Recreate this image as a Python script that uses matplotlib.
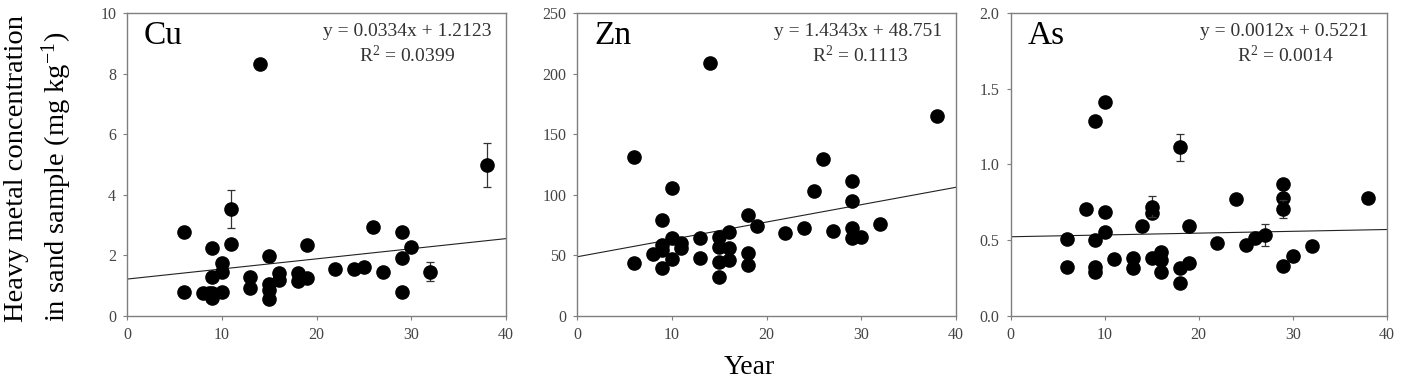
import matplotlib
matplotlib.use("Agg")
import matplotlib.pyplot as plt

plt.rcParams['font.family'] = ['Liberation Serif', 'DejaVu Serif']
plt.rcParams['mathtext.fontset'] = 'custom'
plt.rcParams['mathtext.rm'] = 'Liberation Serif'
plt.rcParams['mathtext.it'] = 'Liberation Serif:italic'

# Cu (mg/kg)
cu_years = [6, 6, 8, 8.6, 9, 9, 9, 9, 10, 10, 10, 11, 13, 13, 14, 15, 15, 15, 15,
            16, 16, 18, 18, 19, 19, 22, 24, 25, 26, 27, 29, 29, 29, 30]
cu_vals = [2.76, 0.77, 0.74, 0.76, 2.23, 1.29, 0.74, 0.6, 1.73, 1.46, 0.77, 2.37,
           1.29, 0.9, 8.31, 1.97, 1.05, 0.85, 0.55, 1.4, 1.18, 1.4, 1.15, 1.26,
           2.34, 1.55, 1.53, 1.62, 2.92, 1.46, 2.76, 1.9, 0.77, 2.26]
cu_err_years = [11, 32, 38]
cu_err_vals = [3.52, 1.46, 4.99]
cu_err_sd = [0.63, 0.3, 0.72]

# Zn (mg/kg)
zn_years = [6, 6, 8, 9, 9, 9, 9, 10, 10, 10, 11, 11, 13, 13, 14, 15, 15, 15, 15,
            16, 16, 16, 18, 18, 18, 19, 22, 24, 25, 26, 27, 29, 29, 29, 29, 30,
            32, 38]
zn_vals = [130.9, 43.3, 50.7, 79.1, 58.4, 54.3, 39.1, 105.8, 64, 46.6, 59.8, 55.7,
           64.5, 47.4, 208.7, 64.8, 57, 44.7, 32.2, 68.9, 55.7, 46, 83.2, 52.1,
           41.9, 74.4, 68.1, 72.8, 103.1, 129.5, 70.3, 111.4, 94.8, 72.2, 64,
           65.3, 75.5, 165.4]
zn_err_years = []
zn_err_vals = []
zn_err_sd = []

# As (mg/kg)
as_years = [6, 6, 8, 9, 9, 9, 9, 10, 10, 10, 11, 13, 13, 14, 15, 15, 16, 16, 16,
            18, 18, 19, 19, 22, 24, 25, 26, 29, 29, 29, 30, 32, 38]
as_vals = [0.505, 0.32, 0.706, 1.29, 0.5, 0.324, 0.29, 1.416, 0.688, 0.551, 0.373,
           0.384, 0.313, 0.595, 0.677, 0.384, 0.423, 0.368, 0.29, 0.313, 0.214,
           0.595, 0.35, 0.483, 0.77, 0.467, 0.512, 0.869, 0.776, 0.33, 0.397,
           0.463, 0.776]
as_err_years = [15, 18, 27, 29]
as_err_vals = [0.721, 1.114, 0.534, 0.703]
as_err_sd = [0.07, 0.09, 0.07, 0.06]

metals = ["Cu", "Zn", "As"]
slopes = [0.0334, 1.4343, 0.0012]
intercepts = [1.2123, 48.751, 0.5221]
eq_labels = ["y = 0.0334x + 1.2123", "y = 1.4343x + 48.751", "y = 0.0012x + 0.5221"]
r2_labels = ["0.0399", "0.1113", "0.0014"]
y_max = [10, 250, 2.0]
y_step = [2, 50, 0.5]
x_ticks = [0, 10, 20, 30, 40]

panels = [
    (cu_years, cu_vals, cu_err_years, cu_err_vals, cu_err_sd),
    (zn_years, zn_vals, zn_err_years, zn_err_vals, zn_err_sd),
    (as_years, as_vals, as_err_years, as_err_vals, as_err_sd),
]

fig = plt.figure(figsize=(14.01, 3.83), dpi=100)
lefts = [0.0909, 0.4121, 0.7214]
widths = [0.2701, 0.2701, 0.2684]
eq_x = [0.963, 0.963, 0.951]
r2_x = [0.739, 0.747, 0.73]

spine_col = '#7f7f7f'
tick_col = '#444444'

for i, (xs, ys, ex, ey, es) in enumerate(panels):
    ax = fig.add_axes([lefts[i], 0.1757, widths[i], 0.7896])
    ax.plot(xs, ys, 'o', color='black', markersize=9.5, zorder=3)
    if ex:
        ax.errorbar(ex, ey, yerr=es, fmt='o', color='black', markersize=9.5,
                    ecolor='#333333', elinewidth=0.9, capsize=3, capthick=0.9,
                    zorder=3)
    lx = [0, 40]
    ax.plot(lx, [intercepts[i] + slopes[i] * v for v in lx], color='#222222',
            lw=0.8, zorder=2)
    ax.set_xlim(0, 40)
    ax.set_ylim(0, y_max[i])
    ax.set_xticks(x_ticks)
    n = int(round(y_max[i] / y_step[i]))
    yt = [k * y_step[i] for k in range(n + 1)]
    ax.set_yticks(yt)
    if i == 2:
        ax.set_yticklabels([f"{v:.1f}" for v in yt])
    for s in ax.spines.values():
        s.set_color(spine_col)
        s.set_linewidth(1.0)
    ax.tick_params(direction='out', length=3, width=0.8, color=spine_col,
                   labelcolor=tick_col, labelsize=11.5, pad=5)
    ax.text(0.044, 0.925, metals[i], transform=ax.transAxes, fontsize=24,
            ha='left', va='center', color='black')
    ax.text(eq_x[i], 0.94, eq_labels[i], transform=ax.transAxes, fontsize=14,
            ha='right', va='center', color='#333333')
    ax.text(r2_x[i], 0.862, r"R$^{2}$ = " + r2_labels[i], transform=ax.transAxes,
            fontsize=14, ha='center', va='center', color='#333333')

fig.text(0.003, 0.16, "Heavy metal concentration\nin sand sample (mg kg$^{-1}$)",
         rotation=90, fontsize=20.5, ha='left', va='bottom', multialignment='left',
         linespacing=1.4)
fig.text(0.535, 0.008, "Year", fontsize=20, ha='center', va='bottom')

fig.savefig("out.png", dpi=100)
